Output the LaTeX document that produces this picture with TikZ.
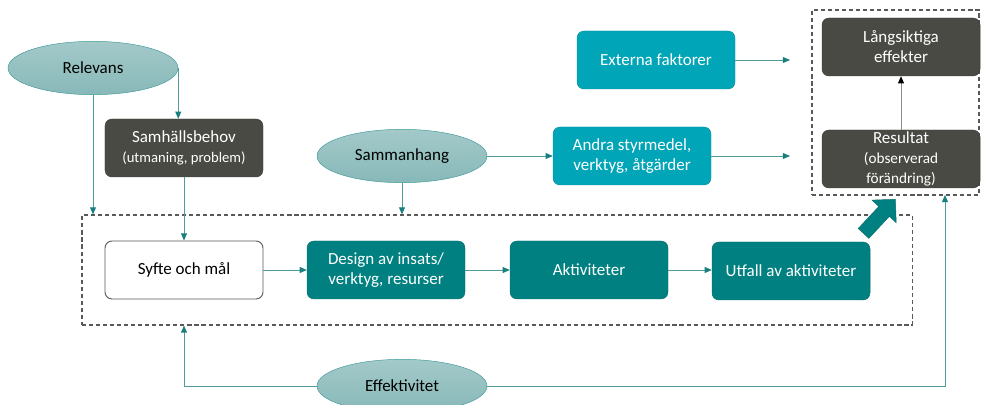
\documentclass[tikz,border=0pt]{standalone}
\usepackage{fontspec}
\setmainfont{Carlito}
\usetikzlibrary{arrows.meta,shapes.geometric,shapes.arrows}

\definecolor{ovaltop}{HTML}{A3C9C9}
\definecolor{ovalbot}{HTML}{88B8B8}
\definecolor{ovalline}{HTML}{3F9A9A}
\definecolor{darkbox}{HTML}{4A4A45}
\definecolor{tealbox}{HTML}{008080}
\definecolor{tealline}{HTML}{0A6C6C}
\definecolor{cyanbox}{HTML}{00A5B8}
\definecolor{cyanline}{HTML}{0B8E9D}
\definecolor{connline}{HTML}{4E9C9C}
\definecolor{conntip}{HTML}{17807F}

\begin{document}
\begin{tikzpicture}[x=0.03cm,y=-0.03cm,
    every node/.style={font=\fontsize{14.5}{17}\selectfont},
    box/.style={rectangle,rounded corners=6pt,minimum width=4.74cm,
                minimum height=1.74cm,align=center,inner sep=1pt},
    greybox/.style={box,fill=darkbox,draw=darkbox!80!black,text=white},
    whitebox/.style={box,fill=white,draw=black!65,line width=0.8pt,text=black},
    tealstep/.style={box,fill=tealbox,draw=tealline,text=white},
    cyanstep/.style={box,fill=cyanbox,draw=cyanline,text=white},
    oval/.style={ellipse,minimum width=5.1cm,minimum height=1.6cm,
                 top color=ovaltop,bottom color=ovalbot,draw=ovalline},
    frame/.style={rectangle,draw=black!65,dash pattern=on 3.5pt off 2.5pt,
                  line width=0.9pt},
    conn/.style={draw=connline,line width=0.8pt,
                 -{Triangle[length=6pt,width=5pt,color=conntip]}},
    sub/.style={font=\fontsize{12.5}{15}\selectfont}]
\useasboundingbox (0,0) rectangle (984,405);

% dashed frames
\node[frame,minimum width=24.9cm,minimum height=3.3cm] (mainframe) at (497,270) {};
\node[frame,minimum width=5.01cm,minimum height=5.55cm] (resframe) at (895.5,102.5) {};

% ovals
\node[oval] (relevans) at (93,68) {Relevans};
\node[oval] (sammanhang) at (402,156) {Sammanhang};
\node[oval] (effektivitet) at (402,386) {Effektivitet};

% boxes
\node[greybox] (behov) at (184,148) {Samhällsbehov\\{\fontsize{12.5}{16}\selectfont(utmaning, problem)}};
\node[whitebox] (syfte) at (184,270) {Syfte och mål};
\node[tealstep] (design) at (386,270) {Design av insats/\\verktyg, resurser};
\node[tealstep] (aktiv) at (589,270) {Aktiviteter};
\node[tealstep] (utfall) at (791,271) {Utfall av aktiviteter};
\node[cyanstep] (andra) at (632,156) {Andra styrmedel,\\verktyg, åtgärder};
\node[cyanstep] (externa) at (656,60) {Externa faktorer};
\node[greybox] (langs) at (901,47) {Långsiktiga\\effekter};
\node[greybox] (result) at (901,159) {Resultat\\{\fontsize{13}{21}\selectfont(observerad}\\{\fontsize{13}{16}\selectfont förändring)}};

% big arrow out of the frame
\node[single arrow,fill=tealbox,draw=tealline,rotate=47,minimum height=1.4cm,
      inner sep=0.21cm,single arrow head extend=0.28cm] (utpil) at (877,219) {};

% loose ends
\coordinate (externaend) at (790,60);
\coordinate (andraend) at (790,156);
\coordinate (effend) at (945,195);

% connectors
\draw[conn] (relevans.east) -- (relevans.east |- behov.north);
\draw[conn] (relevans.south) -- (relevans.south |- mainframe.north);
\draw[conn] (behov.south) -- (syfte.north);
\draw[conn] (sammanhang.south) -- (sammanhang.south |- mainframe.north);
\draw[conn] (sammanhang.east) -- (andra.west);
\draw[conn] (andra.east) -- (andraend);
\draw[conn] (externa.east) -- (externaend);
\draw[conn] (syfte.east) -- (design.west);
\draw[conn] (design.east) -- (aktiv.west);
\draw[conn] (aktiv.east) -- (aktiv.east -| utfall.west);
\draw[conn] (effektivitet.west) -| (syfte |- mainframe.south);
\draw[conn] (effektivitet.east) -| (effend);
\draw[draw=black!45,line width=0.8pt,-{Triangle[length=6pt,width=5pt,color=black]}]
    (result.north) -- (langs.south);
\end{tikzpicture}
\end{document}
